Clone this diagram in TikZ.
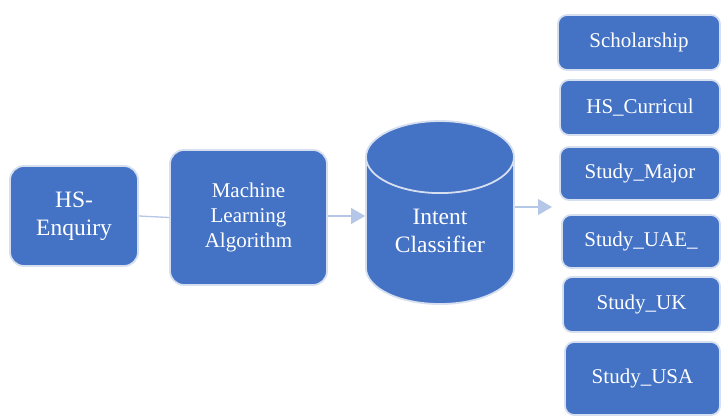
\documentclass[tikz,border=0pt]{standalone}
\usepackage{fontspec}
\setmainfont{Liberation Serif}
\usetikzlibrary{shapes.geometric,arrows.meta}
\definecolor{boxblue}{HTML}{4472C4}
\definecolor{boxedge}{HTML}{D5DFF0}
\definecolor{flowline}{HTML}{B4C7E7}

\begin{document}
\begin{tikzpicture}[x=1pt,y=1pt,
    box/.style={fill=boxblue, draw=boxedge, line width=1.8pt, rounded corners=14pt,
      text=white, align=center, inner sep=0pt},
    intent/.style={box, minimum width=160pt, minimum height=55pt, rounded corners=9pt,
      font=\fontsize{21}{25}\selectfont},
    flow/.style={draw=flowline, line width=1.3pt},
    flowhead/.style={flow, -{Triangle[length=14pt,width=16pt]}}]
  \useasboundingbox (0,0) rectangle (721,417);

  % pipeline: enquiry -> model -> classifier
  \node[box, minimum width=128pt, minimum height=100pt,
    font=\fontsize{23.5}{28}\selectfont] (enq) at (74,201) {HS-\\Enquiry};
  \node[box, minimum width=157pt, minimum height=135pt,
    font=\fontsize{21}{25}\selectfont] (ml) at (248.5,199.5) {Machine\\Learning\\Algorithm};
  \node[cylinder, shape border rotate=90, aspect=0.8, fill=boxblue, draw=boxedge,
    line width=1.8pt, text=white, align=center, inner sep=0pt,
    minimum width=148pt, minimum height=183pt,
    font=\fontsize{23.5}{28}\selectfont] (cls) at (440,186) {Intent\\Classifier};

  % intent labels on the right
  \node[intent, minimum width=162pt] (scholar) at (639,374.5) {Scholarship};
  \node[intent] (curric) at (640,309.5) {HS\_Curricul};
  \node[intent, minimum height=53pt] (major) at (640,243.5) {Study\_Major};
  \node[intent, minimum width=158pt, minimum height=53pt] (uae) at (641,175.5) {Study\_UAE\_};
  \node[intent, minimum width=157pt] (uk) at (641.5,112.5) {Study\_UK};
  \node[intent, minimum width=155pt, minimum height=73pt] (usa) at (642.5,38.5) {Study\_USA};

  % connectors
  \draw[flow] (enq.east) -- (ml.west);
  \coordinate (into) at (ml.east |- 0,201);
  \draw[flowhead] (into) -- (into -| cls.west);
  \coordinate (fanout) at (552,210);
  \draw[flowhead] (fanout -| cls.east) -- (fanout);
\end{tikzpicture}
\end{document}
